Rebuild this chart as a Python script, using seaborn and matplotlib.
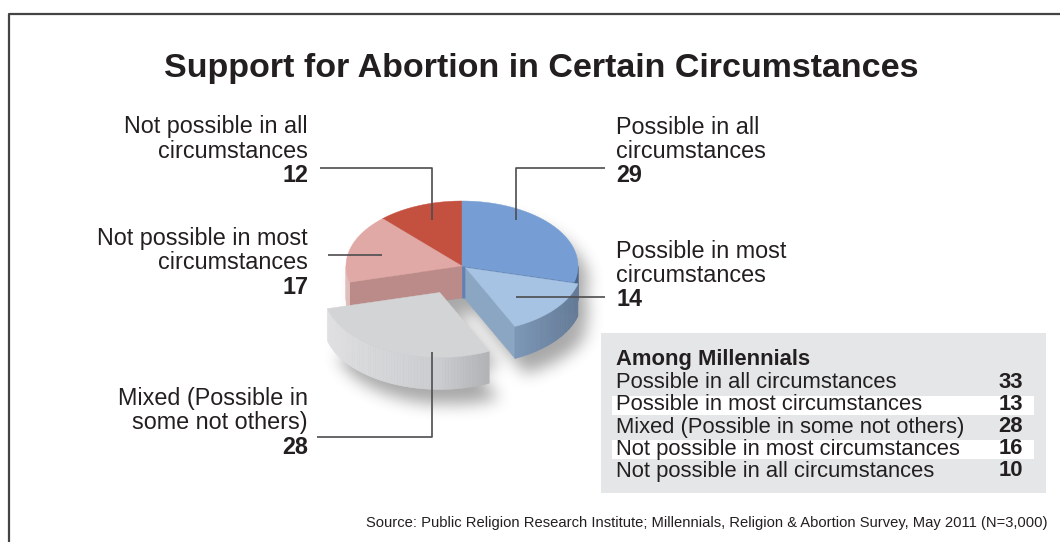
import numpy as np
import matplotlib
matplotlib.use("Agg")
import matplotlib.pyplot as plt
import seaborn as sns
from matplotlib.patches import Polygon, Rectangle
from matplotlib.path import Path
from matplotlib.colors import to_rgb

# --- data ---
categories = ["Possible in all circumstances",
              "Possible in most circumstances",
              "Mixed (Possible in some not others)",
              "Not possible in most circumstances",
              "Not possible in all circumstances"]
overall_pct = [29, 14, 28, 17, 12]
millennial_pct = [33, 13, 28, 16, 10]
pie_labels = ["Possible in all\ncircumstances",
              "Possible in most\ncircumstances",
              "Mixed (Possible in\nsome not others)",
              "Not possible in most\ncircumstances",
              "Not possible in all\ncircumstances"]

# --- style ---
top_colors = ["#779ED4", "#A6C3E3", "#D3D4D6", "#E0A9A5", "#C4503F"]
wall_colors = ["#6A8FC4", "#8EADD3", "#CBCCCF", "#C99390", "#A9453A"]
face_colors = ["#5E82B5", "#8BA6C2", "#B5B6B9", "#BA8B89", "#9C3F35"]
explode = [0, 0.04, 0.45, 0, 0]

CX, CY, RX, RY, DEPTH = 462, 266, 116, 65, 32
W, H = 1060, 542

sns.set_theme(style="white")
plt.rcParams['font.family'] = ['Liberation Sans', 'DejaVu Sans']

fig = plt.figure(figsize=(W / 100, H / 100), dpi=100)
ax = fig.add_axes([0, 0, 1, 1])


def pt(t, ox, oy, dz=0.0):
    r = np.radians(t)
    return CX + ox + RX * np.cos(r), CY + oy - RY * np.sin(r) + dz


def shade(c, t):
    # left side lighter, right side darker
    rgb = np.array(to_rgb(c))
    s = -np.cos(np.radians(t))
    if s > 0:
        return tuple(rgb + (1 - rgb) * 0.4 * s)
    return tuple(rgb * (1 - 0.3 * abs(s)))


fracs = np.array(overall_pct) / sum(overall_pct)
bounds = 90 - 360 * np.concatenate([[0], np.cumsum(fracs)])

slices = []
for i in range(len(overall_pct)):
    t1, t2 = bounds[i], bounds[i + 1]
    mid = np.radians((t1 + t2) / 2)
    ox = explode[i] * RX * np.cos(mid)
    oy = -explode[i] * RY * np.sin(mid)
    slices.append(dict(i=i, t1=t1, t2=t2, ox=ox, oy=oy, depth=np.sin(mid) - explode[i]))

# --- soft shadow under the pie ---
mask_paths = []
for s in slices:
    ts = np.linspace(s['t1'], s['t2'], 60)
    for dz in (0, DEPTH):
        xs, ys = pt(ts, s['ox'], s['oy'], dz)
        verts = [(CX + s['ox'], CY + s['oy'] + dz)] + list(zip(xs, ys))
        mask_paths.append(Path(verts))
gx, gy = np.meshgrid(np.arange(W) + 0.5, np.arange(H) + 0.5)
pts = np.column_stack([gx.ravel() - 10, gy.ravel() - 15])
mask = np.zeros(W * H, dtype=bool)
for p in mask_paths:
    mask |= p.contains_points(pts)
mask = mask.reshape(H, W).astype(float)


def box_blur(a, r):
    k = np.ones(2 * r + 1) / (2 * r + 1)
    a = np.apply_along_axis(lambda m: np.convolve(m, k, mode='same'), 0, a)
    return np.apply_along_axis(lambda m: np.convolve(m, k, mode='same'), 1, a)


for _ in range(3):
    mask = box_blur(mask, 7)
shadow = np.zeros((H, W, 4))
shadow[..., :3] = 0.25
shadow[..., 3] = 0.45 * mask
ax.imshow(shadow, extent=(0, W, H, 0), zorder=1, interpolation='bilinear', aspect='auto')

# --- 3D pie ---
z = 2
for s in sorted(slices, key=lambda d: -d['depth']):
    i, t1, t2, ox, oy = s['i'], s['t1'], s['t2'], s['ox'], s['oy']
    c0 = (CX + ox, CY + oy)
    # radial faces facing the viewer
    for a, normal in ((t1, t1 + 90), (t2, t2 - 90)):
        if np.sin(np.radians(normal)) < -1e-6:
            ex, ey = pt(a, ox, oy)
            quad = [c0, (ex, ey), (ex, ey + DEPTH), (c0[0], c0[1] + DEPTH)]
            ax.add_patch(Polygon(quad, closed=True, facecolor=face_colors[i],
                                 edgecolor=face_colors[i], lw=0.3, zorder=z))
    # curved front wall
    lo, hi = max(t2, -180), min(t1, 0)
    if lo < hi:
        edges = np.linspace(hi, lo, max(2, int((hi - lo) / 1.5) + 1))
        for a, b in zip(edges[:-1], edges[1:]):
            xa, ya = pt(a, ox, oy)
            xb, yb = pt(b, ox, oy)
            col = shade(wall_colors[i], (a + b) / 2)
            ax.add_patch(Polygon([(xa, ya), (xb, yb), (xb, yb + DEPTH), (xa, ya + DEPTH)],
                                 closed=True, facecolor=col, edgecolor=col, lw=0.4, zorder=z))
    # top
    ts = np.linspace(t1, t2, 80)
    xs, ys = pt(ts, ox, oy)
    ax.add_patch(Polygon([c0] + list(zip(xs, ys)), closed=True, facecolor=top_colors[i],
                         edgecolor=top_colors[i], lw=0.3, zorder=z + 0.5))
    z += 1

# --- labels and leader lines ---
LINE = 24.5
LABEL_FS = 16.8
lab_pos = {0: (616, 127, 'left'), 1: (616, 251, 'left'), 2: (308, 398, 'right'),
           3: (308, 238, 'right'), 4: (308, 127, 'right')}
for i, (x, y, ha) in lab_pos.items():
    lines = pie_labels[i].split("\n")
    for k, ln in enumerate(lines):
        ax.text(x, y + k * LINE, ln, ha=ha, va='center', fontsize=LABEL_FS, color='#231F20')
    ax.text(x, y + len(lines) * LINE, str(overall_pct[i]), ha=ha, va='center',
            fontsize=LABEL_FS, fontweight='bold', color='#231F20')

leaders = [
    ([516, 516, 605], [220, 168, 168]),
    ([516, 605], [297, 297]),
    ([432, 432, 317], [352, 437, 437]),
    ([382, 328], [255, 255]),
    ([432, 432, 320], [220, 168, 168]),
]
for xs, ys in leaders:
    ax.plot(xs, ys, color='#4D4D4F', lw=1.2, zorder=20, solid_capstyle='butt')

# --- millennials box ---
BOX_FS = 15.8
ax.add_patch(Rectangle((601, 333), 445, 160, facecolor='#E5E6E7', edgecolor='none', zorder=3))
ax.text(616, 359, "Among Millennials", ha='left', va='center', fontsize=BOX_FS,
        fontweight='bold', color='#231F20', zorder=5)
for k, (cat, v) in enumerate(zip(categories, millennial_pct)):
    y = 383 + k * 22
    if k % 2 == 1:
        ax.add_patch(Rectangle((612, y - 9.5), 422, 19, facecolor='white',
                               edgecolor='none', zorder=4))
    ax.text(616, y, cat, ha='left', va='center', fontsize=BOX_FS, color='#231F20', zorder=5)
    ax.text(1023, y, str(v), ha='right', va='center', fontsize=BOX_FS,
            fontweight='bold', color='#231F20', zorder=5)

# --- title, source, frame ---
ax.text(541, 69, "Support for Abortion in Certain Circumstances", ha='center', va='center',
        fontsize=24.5, fontweight='bold', color='#231F20')
ax.text(1048, 523, "Source: Public Religion Research Institute; Millennials, Religion & Abortion "
        "Survey, May 2011 (N=3,000)", ha='right', va='center', fontsize=10.6, color='#231F20')
ax.plot([9, 9, W], [H, 14, 14], color='#444444', lw=1.6, zorder=20)

ax.set_xlim(0, W)
ax.set_ylim(H, 0)
ax.axis('off')
fig.savefig("out.png", dpi=100)
